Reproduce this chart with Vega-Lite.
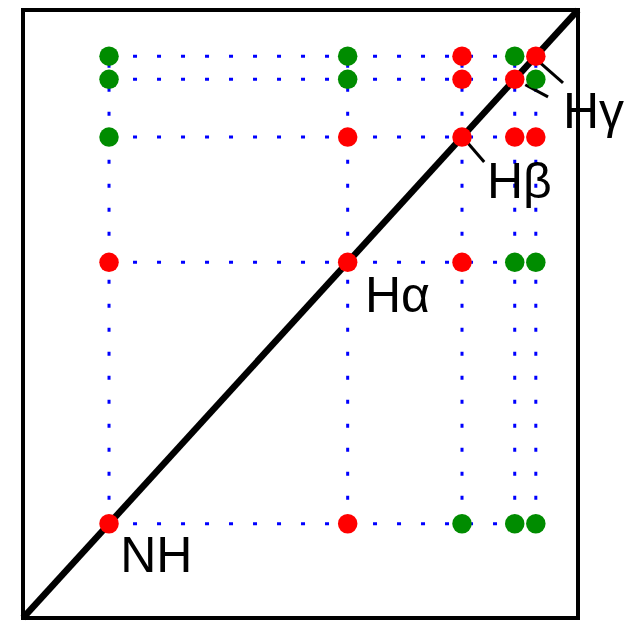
{
  "$schema": "https://vega.github.io/schema/vega-lite/v6.json",
  "width": 555,
  "height": 608,
  "autosize": {"type": "none"},
  "padding": {"left": 23, "top": 10, "right": 50, "bottom": 3},
  "background": "white",
  "config": {"view": {"stroke": "black", "strokeWidth": 4}},
  "datasets": {
    "hlines": [
      {"y": 0.155, "x1": 0.155, "x2": 0.924},
      {"y": 0.585, "x1": 0.155, "x2": 0.924},
      {"y": 0.791, "x1": 0.155, "x2": 0.924},
      {"y": 0.886, "x1": 0.155, "x2": 0.924},
      {"y": 0.924, "x1": 0.155, "x2": 0.924}
    ],
    "vlines": [
      {"x": 0.155, "y1": 0.155, "y2": 0.924},
      {"x": 0.585, "y1": 0.155, "y2": 0.924},
      {"x": 0.791, "y1": 0.155, "y2": 0.924},
      {"x": 0.886, "y1": 0.155, "y2": 0.924},
      {"x": 0.924, "y1": 0.155, "y2": 0.924}
    ],
    "diag": [{"x": 0, "y": 0, "x2": 1, "y2": 1}],
    "leaders": [
      {"x": 0.798, "y": 0.785, "x2": 0.831, "y2": 0.750},
      {"x": 0.932, "y": 0.913, "x2": 0.973, "y2": 0.880},
      {"x": 0.905, "y": 0.877, "x2": 0.946, "y2": 0.857}
    ],
    "points": [
      {"x": 0.155, "y": 0.924, "c": "green"},
      {"x": 0.585, "y": 0.924, "c": "green"},
      {"x": 0.791, "y": 0.924, "c": "red"},
      {"x": 0.886, "y": 0.924, "c": "green"},
      {"x": 0.924, "y": 0.924, "c": "red"},
      {"x": 0.155, "y": 0.886, "c": "green"},
      {"x": 0.585, "y": 0.886, "c": "green"},
      {"x": 0.791, "y": 0.886, "c": "red"},
      {"x": 0.886, "y": 0.886, "c": "red"},
      {"x": 0.924, "y": 0.886, "c": "green"},
      {"x": 0.155, "y": 0.791, "c": "green"},
      {"x": 0.585, "y": 0.791, "c": "red"},
      {"x": 0.791, "y": 0.791, "c": "red"},
      {"x": 0.886, "y": 0.791, "c": "red"},
      {"x": 0.924, "y": 0.791, "c": "red"},
      {"x": 0.155, "y": 0.585, "c": "red"},
      {"x": 0.585, "y": 0.585, "c": "red"},
      {"x": 0.791, "y": 0.585, "c": "red"},
      {"x": 0.886, "y": 0.585, "c": "green"},
      {"x": 0.924, "y": 0.585, "c": "green"},
      {"x": 0.155, "y": 0.155, "c": "red"},
      {"x": 0.585, "y": 0.155, "c": "red"},
      {"x": 0.791, "y": 0.155, "c": "green"},
      {"x": 0.886, "y": 0.155, "c": "green"},
      {"x": 0.924, "y": 0.155, "c": "green"}
    ],
    "labels": [
      {"t": "NH", "x": 0.175, "y": 0.076},
      {"t": "Hα", "x": 0.616, "y": 0.503},
      {"t": "Hβ", "x": 0.836, "y": 0.691},
      {"t": "Hγ", "x": 0.973, "y": 0.806}
    ]
  },
  "layer": [
    {
      "data": {"name": "hlines"},
      "mark": {"type": "rule", "color": "#0000ff", "strokeWidth": 3, "strokeDash": [4, 20]},
      "encoding": {
        "x": {"field": "x1", "type": "quantitative", "scale": {"domain": [0, 1], "nice": false, "zero": false}, "axis": null},
        "x2": {"field": "x2"},
        "y": {"field": "y", "type": "quantitative", "scale": {"domain": [0, 1], "nice": false, "zero": false}, "axis": null}
      }
    },
    {
      "data": {"name": "vlines"},
      "mark": {"type": "rule", "color": "#0000ff", "strokeWidth": 3, "strokeDash": [4, 20]},
      "encoding": {
        "x": {"field": "x", "type": "quantitative", "axis": null},
        "y": {"field": "y1", "type": "quantitative", "axis": null},
        "y2": {"field": "y2"}
      }
    },
    {
      "data": {"name": "diag"},
      "mark": {"type": "rule", "color": "black", "strokeWidth": 6.5},
      "encoding": {
        "x": {"field": "x", "type": "quantitative", "axis": null},
        "y": {"field": "y", "type": "quantitative", "axis": null},
        "x2": {"field": "x2"},
        "y2": {"field": "y2"}
      }
    },
    {
      "data": {"name": "leaders"},
      "mark": {"type": "rule", "color": "black", "strokeWidth": 3},
      "encoding": {
        "x": {"field": "x", "type": "quantitative", "axis": null},
        "y": {"field": "y", "type": "quantitative", "axis": null},
        "x2": {"field": "x2"},
        "y2": {"field": "y2"}
      }
    },
    {
      "data": {"name": "points"},
      "mark": {"type": "circle", "size": 380, "opacity": 1},
      "encoding": {
        "x": {"field": "x", "type": "quantitative", "axis": null},
        "y": {"field": "y", "type": "quantitative", "axis": null},
        "color": {"field": "c", "type": "nominal", "scale": {"domain": ["red", "green"], "range": ["#ff0000", "#008c00"]}, "legend": null}
      }
    },
    {
      "data": {"name": "labels"},
      "mark": {"type": "text", "align": "left", "baseline": "alphabetic", "font": "Liberation Sans", "fontSize": 50, "color": "black"},
      "encoding": {
        "x": {"field": "x", "type": "quantitative", "axis": null},
        "y": {"field": "y", "type": "quantitative", "axis": null},
        "text": {"field": "t"}
      }
    }
  ]
}
